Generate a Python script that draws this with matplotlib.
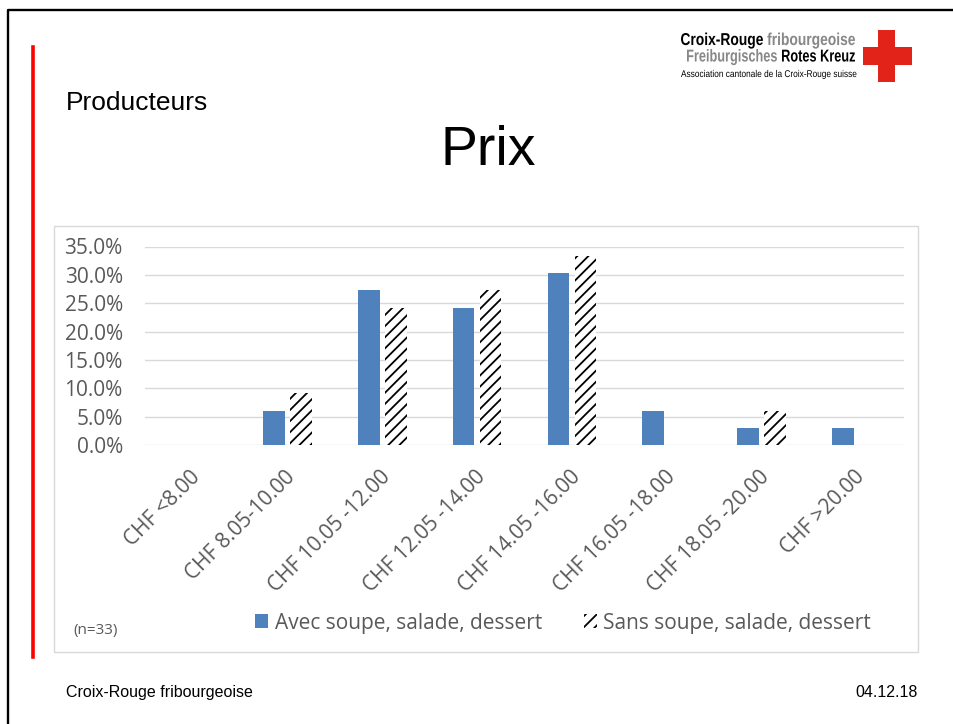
import matplotlib.pyplot as plt
from matplotlib.patches import Patch, Rectangle, PathPatch
from matplotlib.lines import Line2D
from matplotlib.textpath import TextPath
from matplotlib.font_manager import FontProperties
from matplotlib.transforms import Affine2D, ScaledTranslation
import numpy as np

# price ranges and share of producers (n=33)
categories = ["CHF <8.00", "CHF 8.05-10.00", "CHF 10.05 -12.00", "CHF 12.05 -14.00",
              "CHF 14.05 -16.00", "CHF 16.05 -18.00", "CHF 18.05 -20.00", "CHF >20.00"]
avec = [0.0, 6.06, 27.27, 24.24, 30.30, 6.06, 3.03, 3.03]
sans = [0.0, 9.09, 24.24, 27.27, 33.33, 0.0, 6.06, 0.0]
yticks = [0, 5, 10, 15, 20, 25, 30, 35]

W, H = 954, 724
BLUE = "#4f81bd"
GREY_TXT = "#595959"
RED = "#e2231a"
LOGO_GREY = "#878787"

plt.rcParams["hatch.linewidth"] = 1.3


def fx(x):
    return x / W


def fy(y):
    return 1 - y / H


fig = plt.figure(figsize=(W / 100, H / 100), dpi=100)
fig.patch.set_facecolor("white")


def logo_line(parts, x0, x1, baseline, size, weight, gap=0.32):
    # condensed text: glyph outlines squeezed horizontally to fit x0..x1
    fp = FontProperties(family="Liberation Sans", weight=weight)
    paths = [TextPath((0, 0), s, size=size, prop=fp) for s, _ in parts]
    gap = size * gap
    total = sum(p.get_extents().width for p in paths) + gap * (len(paths) - 1)
    sx = (x1 - x0) / total
    cur = x0
    for p, (_, c) in zip(paths, parts):
        ext = p.get_extents()
        tr = (Affine2D().translate(-ext.x0, 0).scale(sx, 1)
              .translate(cur, H - baseline).scale(1 / W, 1 / H) + fig.transFigure)
        fig.add_artist(PathPatch(p, transform=tr, fc=c, lw=0))
        cur += (ext.width + gap) * sx


# slide frame and red accent line
fig.add_artist(Line2D([fx(8), fx(8), fx(W)], [fy(H), fy(10), fy(10)], color="black", lw=1.7))
fig.add_artist(Line2D([fx(33), fx(33)], [fy(47), fy(657)], color="#ff0000", lw=2.6))

# chart box
fig.add_artist(Rectangle((fx(54.5), fy(652)), fx(918 - 54.5), (652 - 226) / H,
                         transform=fig.transFigure, fill=False, ec="#d9d9d9", lw=1))

# header and footer
fig.text(fx(66), fy(110), "Producteurs", fontsize=19, family="Liberation Sans", va="baseline")
fig.text(fx(488), fy(165), "Prix", fontsize=40, family="Liberation Sans", ha="center", va="baseline")
fig.text(fx(66), fy(697), "Croix-Rouge fribourgeoise", fontsize=11.5, family="Liberation Sans", va="baseline")
fig.text(fx(918), fy(697), "04.12.18", fontsize=11.5, family="Liberation Sans", ha="right", va="baseline")

# logo
logo_line([("Croix-Rouge", "black"), ("fribourgeoise", LOGO_GREY)], 681, 855, 45, 17.2, "bold")
logo_line([("Freiburgisches", LOGO_GREY), ("Rotes Kreuz", "black")], 687, 855, 61.5, 17.2, "bold", 0.4)
logo_line([("Association cantonale de la Croix-Rouge suisse", "black")], 681, 856.5, 77, 9.8, "normal")
fig.add_artist(Rectangle((fx(878.3), fy(81.7)), fx(16.7), 51.7 / H, transform=fig.transFigure,
                         color=RED, lw=0))
fig.add_artist(Rectangle((fx(863.3), fy(65)), fx(48.4), 18.3 / H, transform=fig.transFigure,
                         color=RED, lw=0))

# bar chart
ax = fig.add_axes([fx(145), fy(445), fx(904 - 145), (445 - 246.5) / H])
x = np.arange(len(categories))
off, bw = 0.142, 0.229
ax.bar(x - off, avec, bw, color=BLUE, lw=0, zorder=3)
ax.bar(x + off, sans, bw, facecolor="white", edgecolor="black", hatch="///", lw=0, zorder=3)

ax.set_xlim(-0.5, len(categories) - 0.5)
ax.set_ylim(0, 35)
ax.set_yticks(yticks, [f"{v:.1f}%" for v in yticks])
ax.grid(axis="y", color="#d9d9d9", lw=1, zorder=0)
for s in ax.spines.values():
    s.set_visible(False)
ax.tick_params(axis="y", length=0, pad=16, labelsize=15, labelcolor=GREY_TXT)
ax.tick_params(axis="x", length=0, pad=21, labelsize=15, labelcolor=GREY_TXT)
ax.set_xticks(x, categories, rotation=45, ha="right", va="center", rotation_mode="anchor")
shift = ScaledTranslation(5 / 100, 0, fig.dpi_scale_trans)
for lab in ax.get_xticklabels():
    lab.set_family("Open Sans")
    lab.set_transform(lab.get_transform() + shift)
for lab in ax.get_yticklabels():
    lab.set_family("Open Sans")

# legend and sample size
handles = [Patch(facecolor=BLUE, lw=0),
           Patch(facecolor="white", edgecolor="black", hatch="///", lw=0)]
leg = fig.legend(handles, ["Avec soupe, salade, dessert", "Sans soupe, salade, dessert"],
                 loc="center", bbox_to_anchor=(fx(563), fy(623)), ncol=2, frameon=False,
                 handlelength=0.65, handleheight=0.65, handletextpad=0.3, columnspacing=2.0,
                 prop={"family": "Open Sans", "size": 15})
for t in leg.get_texts():
    t.set_color(GREY_TXT)
fig.text(fx(73), fy(634), "(n=33)", fontsize=11, family="Open Sans", color=GREY_TXT, va="baseline")

fig.savefig("out.png", dpi=100)
